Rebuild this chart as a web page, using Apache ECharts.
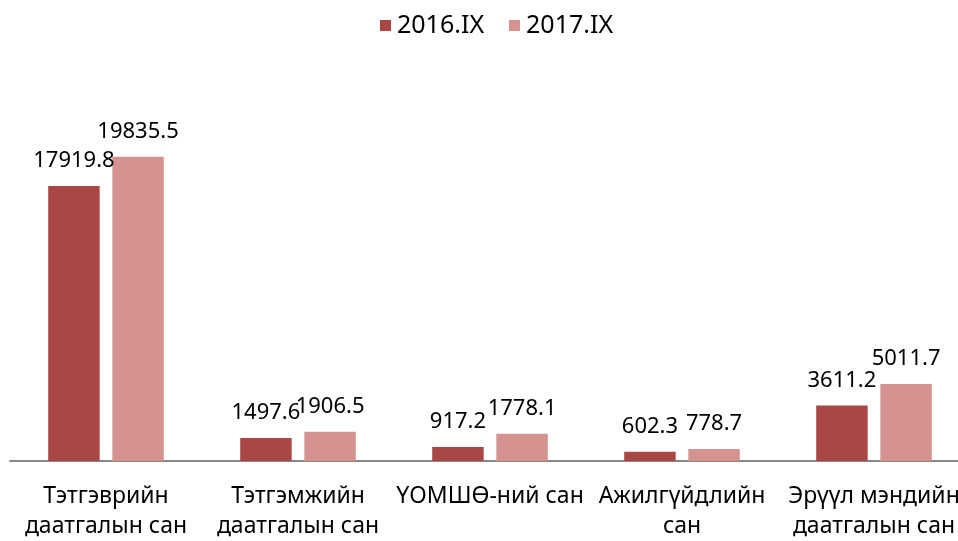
<!DOCTYPE html>
<html>
<head>
<meta charset="utf-8">
<script src="https://cdn.jsdelivr.net/npm/echarts@6/dist/echarts.min.js"></script>
<style>
  html, body { margin: 0; padding: 0; background: #fff; overflow: hidden; }
  #chart { width: 970px; height: 541px; }
</style>
</head>
<body>
<div id="chart"></div>
<script>
const categories = [
  'Тэтгэврийн\nдаатгалын сан',
  'Тэтгэмжийн\nдаатгалын сан',
  'ҮОМШӨ-ний сан',
  'Ажилгүйдлийн\nсан',
  'Эрүүл мэндийн\nдаатгалын сан'
]
const values2016 = [17919.8, 1497.6, 917.2, 602.3, 3611.2]
const values2017 = [19835.5, 1906.5, 1778.1, 778.7, 5011.7]

const font = 'Noto Sans, sans-serif'
const labelStyle = {
  show: true,
  position: 'top',
  color: '#000',
  fontFamily: font,
  fontSize: 22,
  distance: 14,
}

// chart is slightly wider than the window: the last category is cut off on the right
const chart = echarts.init(document.getElementById('chart'))
chart.setOption({
  animation: false,
  legend: {
    top: 8,
    left: 375,
    itemWidth: 11,
    itemHeight: 11,
    itemGap: 25,
    icon: 'rect',
    textStyle: { fontFamily: font, fontSize: 25, color: '#000', padding: [0, 0, 0, 1] },
    data: ['2016.IX', '2017.IX'],
  },
  grid: {
    left: 10,
    right: 0,
    top: 77.5,
    bottom: 80,
    containLabel: false,
  },
  xAxis: {
    type: 'category',
    data: categories,
    axisLine: { lineStyle: { color: '#888', width: 2 } },
    axisTick: { show: false },
    axisLabel: {
      interval: 0,
      color: '#000',
      fontFamily: font,
      fontSize: 23,
      lineHeight: 30,
      margin: 20,
    },
  },
  yAxis: {
    type: 'value',
    min: 0,
    max: 25000,
    show: false,
    splitLine: { show: false },
  },
  series: [
    {
      name: '2016.IX',
      type: 'bar',
      data: values2016,
      barWidth: '26.8%',
      barGap: '24.6%',
      itemStyle: { color: '#A94744' },
      label: labelStyle,
    },
    {
      name: '2017.IX',
      type: 'bar',
      data: values2017,
      barWidth: '26.8%',
      itemStyle: { color: '#D49290' },
      label: labelStyle,
    },
  ],
})
</script>
</body>
</html>
